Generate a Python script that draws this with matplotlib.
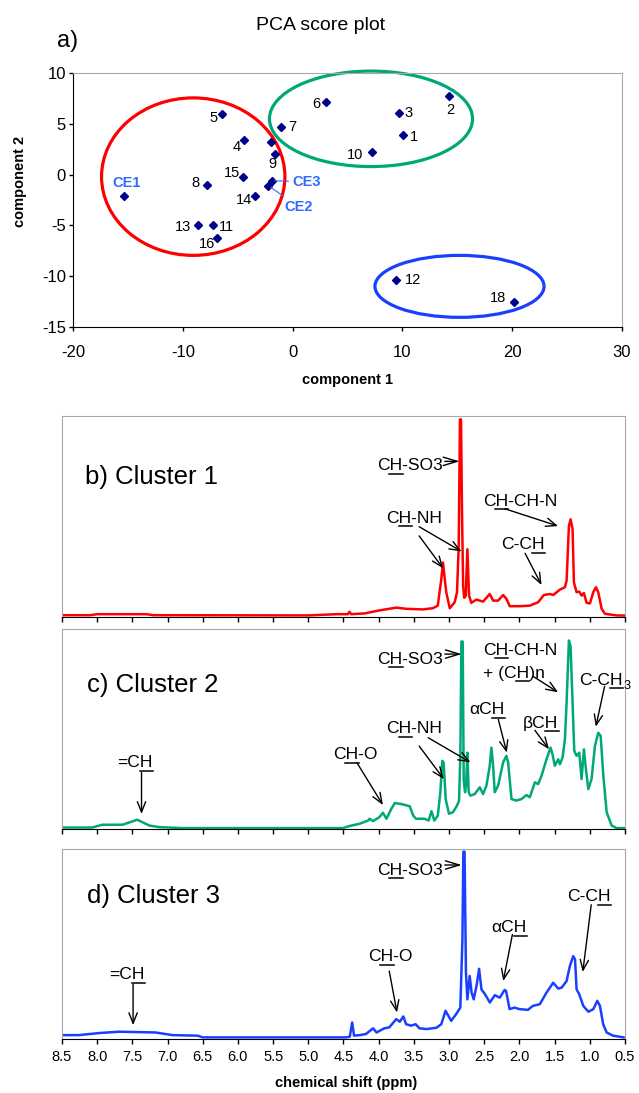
import matplotlib
matplotlib.use('Agg')
import matplotlib.pyplot as plt
from matplotlib.patches import Ellipse
from matplotlib.lines import Line2D
from matplotlib.font_manager import FontProperties

plt.rcParams['font.family'] = ['Liberation Sans', 'DejaVu Sans']
plt.rcParams['axes.unicode_minus'] = False

# ---- PCA scores ----
sample_ids = ['1', '2', '3', '4', '5', '6', '7', '8', '9', '10', '11', '12', '13',
              '14', '15', '16', '18', 'CE1', 'CE2', 'CE3', '17']
pc1 = [10.03, 14.24, 9.72, -4.43, -6.46, 3.01, -1.08, -7.82, -1.63, 7.20, -7.25,
       9.41, -8.62, -3.42, -4.49, -6.88, 20.19, -15.36, -2.21, -1.90, -2.00]
pc2 = [3.93, 7.70, 6.09, 3.41, 5.96, 7.17, 4.69, -1.02, 2.00, 2.19, -4.92,
       -10.34, -4.92, -2.10, -0.27, -6.24, -12.52, -2.10, -1.09, -0.60, 3.18]

# cluster ellipses: centre x, centre y, width, height
ell_cx = [-9.05, 7.14, 15.2]
ell_cy = [-0.2, 5.49, -11.0]
ell_w = [16.7, 18.5, 15.4]
ell_h = [15.5, 9.4, 6.1]

# ---- mean spectra of the clusters (ppm, relative intensity) ----
c1_ppm = [8.50, 8.10, 8.00, 7.30, 7.20, 5.00, 4.60, 4.44, 4.415, 4.39, 4.20, 3.99, 3.87,
          3.75, 3.61, 3.37, 3.23, 3.16, 3.11, 3.086, 3.06, 3.04, 2.99, 2.92, 2.887, 2.863,
          2.845, 2.83, 2.816, 2.80, 2.785, 2.763, 2.74, 2.716, 2.683, 2.612, 2.517, 2.422,
          2.374, 2.303, 2.232, 2.185, 2.137, 1.995, 1.852, 1.734, 1.653, 1.568, 1.520,
          1.425, 1.354, 1.330, 1.297, 1.273, 1.245, 1.226, 1.188, 1.150, 1.117, 1.084,
          1.046, 0.998, 0.951, 0.913, 0.880, 0.832, 0.785, 0.619, 0.50]
c1_int = [0.3, 0.3, 0.8, 0.8, 0.3, 0.2, 0.8, 0.8, 2.0, 0.8, 1.2, 2.7, 3.4,
          4.1, 3.5, 3.2, 3.8, 5.1, 18.4, 26.7, 18.0, 11.8, 3.8, 6.8, 11.8, 35.0,
          98.3, 98.3, 51.6, 15.0, 9.0, 10.0, 33.3, 10.1, 6.5, 8.1, 7.1, 10.9,
          7.6, 7.6, 10.4, 8.5, 4.8, 4.8, 5.1, 6.8, 10.4, 10.9, 10.4,
          13.1, 14.3, 17.6, 44.9, 48.3, 43.3, 16.7, 11.8, 12.1, 10.1, 11.4,
          6.5, 6.2, 11.8, 14.3, 11.8, 3.5, 1.0, 0.2, 0.1]

c2_ppm = [8.50, 8.07, 7.93, 7.64, 7.43, 7.26, 7.12, 6.79, 4.60, 4.51, 4.42, 4.27, 4.15,
          4.13, 4.08, 3.99, 3.94, 3.89, 3.82, 3.77, 3.68, 3.56, 3.51, 3.47, 3.35, 3.29,
          3.25, 3.21, 3.16, 3.124, 3.096, 3.077, 3.048, 3.001, 2.944, 2.887, 2.858, 2.839,
          2.825, 2.806, 2.792, 2.773, 2.759, 2.740, 2.721, 2.697, 2.635, 2.564, 2.517,
          2.469, 2.422, 2.398, 2.374, 2.351, 2.303, 2.232, 2.185, 2.161, 2.113, 2.042,
          1.971, 1.900, 1.852, 1.781, 1.734, 1.686, 1.615, 1.558, 1.530, 1.497, 1.449,
          1.425, 1.387, 1.354, 1.330, 1.297, 1.273, 1.245, 1.221, 1.188, 1.150, 1.117,
          1.084, 1.055, 1.022, 0.975, 0.927, 0.880, 0.846, 0.808, 0.761, 0.690, 0.619, 0.50]
c2_int = [0.3, 0.3, 1.7, 1.7, 4.2, 1.3, 0.5, 0.0, 0.0, 0.0, 1.0, 2.2, 3.8,
          4.7, 3.5, 5.5, 7.7, 4.7, 9.7, 12.6, 12.1, 11.0, 6.3, 4.7, 4.7, 3.8,
          8.5, 3.8, 6.3, 18.0, 33.8, 32.9, 14.6, 7.2, 8.0, 11.3, 13.8, 37.9,
          93.7, 93.7, 24.6, 18.0, 21.3, 37.9, 18.0, 16.3, 17.1, 20.5, 17.1,
          21.3, 31.3, 40.4, 31.3, 18.0, 21.3, 33.0, 36.3, 33.0, 14.6, 13.8,
          14.6, 16.6, 15.5, 23.0, 22.1, 26.3, 34.6, 40.4, 37.1, 31.3, 34.6,
          32.1, 35.4, 44.6, 62.9, 94.2, 91.2, 62.9, 38.8, 36.3, 37.9, 24.6,
          39.6, 29.6, 19.6, 24.6, 41.3, 47.9, 46.3, 26.3, 8.0, 1.3, 0.0, 0.0]

c3_ppm = [8.50, 8.26, 7.97, 7.69, 7.17, 6.93, 6.57, 6.50, 4.46, 4.41, 4.377, 4.35, 4.27,
          4.18, 4.08, 4.03, 3.92, 3.85, 3.75, 3.70, 3.65, 3.61, 3.54, 3.475, 3.42, 3.32,
          3.18, 3.11, 3.05, 2.97, 2.90, 2.84, 2.81, 2.797, 2.78, 2.76, 2.74, 2.707, 2.68,
          2.65, 2.61, 2.573, 2.54, 2.49, 2.42, 2.35, 2.28, 2.21, 2.19, 2.14, 2.07, 2.00,
          1.88, 1.81, 1.71, 1.615, 1.52, 1.45, 1.40, 1.33, 1.283, 1.236, 1.21, 1.188,
          1.15, 1.093, 1.02, 0.95, 0.894, 0.856, 0.81, 0.761, 0.67, 0.52]
c3_int = [1.2, 1.2, 2.3, 3.0, 2.6, 1.2, 0.9, 0.0, 0.0, 0.4, 7.9, 0.9, 1.2,
          1.8, 4.8, 2.6, 4.8, 5.3, 9.7, 8.3, 11.1, 7.0, 6.2, 7.0, 4.8, 4.4,
          5.1, 7.0, 14.1, 8.8, 12.3, 15.8, 52.0, 98.6, 98.6, 34.3, 20.2, 32.6, 23.8,
          20.2, 27.3, 36.4, 25.5, 22.9, 18.5, 22.4, 21.1, 25.2, 24.6, 15.0, 15.8, 15.0,
          14.6, 16.7, 17.6, 23.8, 29.0, 25.9, 26.4, 29.9, 37.9, 43.1, 41.4, 25.5,
          22.9, 16.7, 13.6, 15.0, 19.4, 16.7, 7.0, 2.6, 0.9, 0.0]

ppm_ticks = [8.5, 8.0, 7.5, 7.0, 6.5, 6.0, 5.5, 5.0, 4.5, 4.0, 3.5, 3.0, 2.5, 2.0, 1.5, 1.0, 0.5]

RED = '#FF0000'
GREEN = '#00A878'
BLUE = '#1A40FF'
NAVY = '#00008B'
CEBLUE = '#2F6BFF'
FRAME = '#A8A8A8'

W, H = 639, 1093
fig = plt.figure(figsize=(W / 100, H / 100), dpi=100)


def box(l, t, r, b):
    # pixel box -> figure fraction
    return [l / W, 1 - b / H, (r - l) / W, (b - t) / H]


# ================= a) PCA score plot =================
ax = fig.add_axes(box(73, 73, 622, 327))
ax.set_xlim(-20, 30)
ax.set_ylim(-15, 10)
ax.set_xticks([-20, -10, 0, 10, 20, 30])
ax.set_yticks([-15, -10, -5, 0, 5, 10])
ax.tick_params(direction='out', length=3, width=1, labelsize=12)
ax.tick_params(axis='x', pad=10)
ax.tick_params(axis='y', pad=2)
for s in ['top', 'right']:
    ax.spines[s].set_color(FRAME)
for s in ['left', 'bottom']:
    ax.spines[s].set_color('black')

for cx, cy, w, h, c in zip(ell_cx, ell_cy, ell_w, ell_h, [RED, GREEN, BLUE]):
    ax.add_patch(Ellipse((cx, cy), w, h, fill=False, ec=c, lw=2.3, clip_on=False, zorder=2))

ax.plot(pc1, pc2, 'D', color=NAVY, ms=4.5, zorder=3, clip_on=False)

# label offsets in pixels: dx, dy, ha
offsets = {
    '1': (7, -2, 'left'), '2': (1, -14, 'center'), '3': (5, 0, 'left'),
    '4': (-3, -7, 'right'), '5': (-4, -4, 'right'), '6': (-5, -2, 'right'),
    '7': (8, 0, 'left'), '8': (-7, 2, 'right'), '9': (-2, -10, 'center'),
    '10': (-8, -3, 'right'), '11': (6, -2, 'left'), '12': (9, 0, 'left'),
    '13': (-7, -2, 'right'), '14': (-3, -4, 'right'), '15': (-3, 4, 'right'),
    '16': (-2, -6, 'right'), '18': (-8, 4, 'right'), 'CE1': (3, 13, 'center'),
}
for sid, x, y in zip(sample_ids, pc1, pc2):
    if sid in offsets:
        dx, dy, ha = offsets[sid]
        ce = sid.startswith('CE')
        ax.annotate(sid, (x, y), xytext=(dx, dy), textcoords='offset pixels',
                    ha=ha, va='center', fontsize=10.5,
                    color=CEBLUE if ce else 'black',
                    fontweight='bold' if ce else 'normal')

ix3 = sample_ids.index('CE3')
ax.annotate('CE3', (pc1[ix3], pc2[ix3]), xytext=(21, -1), textcoords='offset pixels',
            ha='left', va='center', fontsize=10.5, color=CEBLUE, fontweight='bold',
            arrowprops=dict(arrowstyle='-', color=CEBLUE, lw=0.8, shrinkA=1, shrinkB=2))
ix2 = sample_ids.index('CE2')
ax.annotate('CE2', (pc1[ix2], pc2[ix2]), xytext=(16, -21), textcoords='offset pixels',
            ha='left', va='center', fontsize=10.5, color=CEBLUE, fontweight='bold',
            arrowprops=dict(arrowstyle='-', color=CEBLUE, lw=0.8, shrinkA=1, shrinkB=2))

fig.text(321 / W, 1 - 30 / H, 'PCA score plot', ha='center', va='baseline', fontsize=14)
fig.text(57 / W, 1 - 47 / H, 'a)', ha='left', va='baseline', fontsize=17)
fig.text(348 / W, 1 - 380 / H, 'component 1', ha='center', va='center',
         fontsize=10.5, fontweight='bold')
fig.text(20 / W, 1 - 181 / H, 'component 2', ha='center', va='center', rotation=90,
         fontsize=10.5, fontweight='bold')

# ================= b-d) spectra =================
axb = fig.add_axes(box(62, 416, 625, 617))
axc = fig.add_axes(box(62, 629, 625, 829.3))
axd = fig.add_axes(box(62, 849, 625, 1038.5))

for a, ppm, inten, col in [(axb, c1_ppm, c1_int, RED), (axc, c2_ppm, c2_int, GREEN),
                           (axd, c3_ppm, c3_int, BLUE)]:
    a.plot(ppm, inten, color=col, lw=1.8, solid_joinstyle='round')
    a.set_xlim(8.5, 0.5)
    a.set_ylim(-0.6, 100)
    a.set_yticks([])
    a.set_xticks(ppm_ticks)
    a.set_xticklabels(['%.1f' % t for t in ppm_ticks])
    a.tick_params(axis='x', direction='out', length=3.6, width=1, labelsize=10.5, pad=5)
    for s in ['top', 'left', 'right']:
        a.spines[s].set_color(FRAME)
    a.spines['bottom'].set_color('black')
axb.tick_params(labelbottom=False)
axc.tick_params(labelbottom=False)

fig.text(85 / W, 1 - 484 / H, 'b) Cluster 1', fontsize=18.5, va='baseline')
fig.text(87 / W, 1 - 691.7 / H, 'c) Cluster 2', fontsize=18.5, va='baseline')
fig.text(87 / W, 1 - 903 / H, 'd) Cluster 3', fontsize=18.5, va='baseline')
fig.text(346 / W, 1 - 1083 / H, 'chemical shift (ppm)', ha='center', va='center',
         fontsize=10.5, fontweight='bold')

renderer = fig.canvas.get_renderer()
inv = fig.transFigure.inverted()
LABEL_SIZE = 12.6


def ink_width(s, prop):
    return renderer.get_text_width_height_descent(s, prop, ismath=False)[0]


def hlabel(a, x, y, pre, post='', sub=None):
    # text with the H underlined
    prop = FontProperties(family='Liberation Sans', size=LABEL_SIZE)
    a.text(x, y, pre + 'H' + post, fontproperties=prop, ha='left', va='baseline')
    w1 = ink_width(pre + 'H', prop)
    w0 = w1 - ink_width('H', prop)
    px, py = a.transData.transform((x, y))
    (u0, v0), (u1, v1) = inv.transform([(px + w0 - 0.5, py - 3.5), (px + w1 + 0.5, py - 3.5)])
    fig.add_artist(Line2D([u0, u1], [v0, v1], color='black', lw=1.1))
    if sub:
        w2 = ink_width(pre + 'H' + post, prop)
        sx, sy = inv.transform((px + w2 + 1, py - 4))
        fig.text(sx, sy, sub, fontsize=LABEL_SIZE * 0.72, ha='left', va='baseline')


CHEV = '->,head_length=1.0,head_width=0.3'
ARR = '->,head_length=0.75,head_width=0.3'


def arrow(a, x0, y0, x1, y1, style=ARR):
    a.annotate('', xy=(x1, y1), xytext=(x0, y0),
               arrowprops=dict(arrowstyle=style, color='black', lw=1.0,
                               shrinkA=0, shrinkB=0, mutation_scale=10))


# cluster 1
hlabel(axb, 4.02, 72.8, 'C', '-SO3')
arrow(axb, 3.06, 77.3, 2.85, 77.3, CHEV)
hlabel(axb, 3.89, 46.6, 'C', '-NH')
arrow(axb, 3.425, 40.0, 3.084, 23.7)
arrow(axb, 3.425, 44.6, 2.822, 32.2)
hlabel(axb, 2.52, 55.2, 'C', '-CH-N')
arrow(axb, 2.21, 53.6, 1.45, 44.9)
hlabel(axb, 2.26, 33.3, 'C-C')
arrow(axb, 1.92, 31.3, 1.686, 15.4)

# cluster 2
hlabel(axc, 4.02, 82.5, 'C', '-SO3')
arrow(axc, 3.06, 87.4, 2.82, 87.4, CHEV)
hlabel(axc, 3.89, 47.6, 'C', '-NH')
arrow(axc, 3.425, 41.2, 3.074, 24.6)
arrow(axc, 3.297, 45.4, 2.695, 33.0)
hlabel(axc, 2.71, 57.1, '\u03b1C')
arrow(axc, 2.30, 54.6, 2.18, 37.9)
hlabel(axc, 2.52, 87.0, 'C', '-CH-N')
hlabel(axc, 2.52, 75.4, '+ (C', ')n')
arrow(axc, 1.805, 76.2, 1.45, 68.2)
hlabel(axc, 1.95, 50.4, '\u03b2C')
arrow(axc, 1.78, 49.1, 1.58, 39.6)
hlabel(axc, 1.15, 72.0, 'C-C', '', sub='3')
arrow(axc, 0.79, 71.2, 0.915, 50.9)
hlabel(axc, 4.65, 34.6, 'C', '-O')
arrow(axc, 4.31, 32.9, 3.94, 11.6)
hlabel(axc, 7.71, 30.5, '=C')
arrow(axc, 7.37, 28.0, 7.37, 7.1)

# cluster 3
hlabel(axd, 4.02, 86.3, 'C', '-SO3')
arrow(axd, 3.06, 91.5, 2.82, 91.5, CHEV)
hlabel(axd, 4.15, 40.5, 'C', '-O')
arrow(axd, 3.85, 35.2, 3.74, 13.2)
hlabel(axd, 2.40, 55.8, '\u03b1C')
arrow(axd, 2.10, 54.6, 2.23, 29.9)
hlabel(axd, 1.32, 72.2, 'C-C')
arrow(axd, 0.98, 70.4, 1.10, 34.7)
hlabel(axd, 7.83, 30.8, '=C')
arrow(axd, 7.49, 28.2, 7.49, 6.5)

fig.savefig('out.png', dpi=100)
